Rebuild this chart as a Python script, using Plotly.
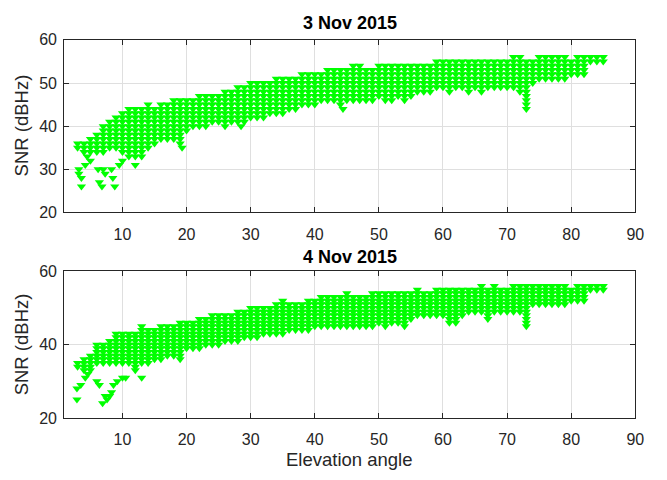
import plotly.graph_objects as go

# Elevation grid (degrees) used for the dense band of each day
ELEV = list(range(3, 86))

# 3 Nov 2015: upper and lower SNR (dBHz) of the dense band at each elevation
NOV3_HIGH = [36, 36, 37, 38, 40, 41, 42, 43, 44, 44, 44, 45, 44, 45, 45, 46, 46, 46, 46, 47,
             47, 47, 47, 48, 48, 49, 49, 50, 50, 50, 50, 51, 51, 51, 51, 52, 52, 52, 52, 53,
             53, 53, 53, 54, 54, 53, 53, 54, 54, 54, 54, 54, 54, 54, 54, 54, 55, 55, 55, 55,
             55, 55, 55, 55, 55, 55, 55, 55, 56, 56, 55, 55, 56, 56, 56, 56, 56, 55, 56, 56,
             56, 56, 56]
NOV3_LOW = [35, 34, 34, 34, 34, 35, 35, 34, 34, 33, 34, 35, 36, 37, 37, 37, 37, 39, 40, 40,
            40, 41, 41, 40, 41, 41, 41, 42, 42, 42, 43, 43, 43, 44, 44, 45, 45, 45, 46, 46,
            46, 45, 46, 46, 46, 46, 46, 47, 46, 46, 47, 46, 47, 48, 48, 48, 49, 49, 48, 49,
            49, 48, 49, 48, 49, 49, 49, 49, 49, 48, 44, 50, 51, 51, 51, 51, 51, 52, 52, 52,
            55, 55, 55]
# 3 Nov 2015: scattered low points
NOV3_OUT_ELEV = [3.2, 3.2, 3.6, 3.6, 4.2, 4.5, 5.0, 6.2, 6.4, 6.8, 7.0, 7.3, 8.3, 8.5, 8.8,
                 9.5, 10.0, 11.0, 12.0, 13.0, 19.0, 19.3, 28.5, 44.4]
NOV3_OUT_SNR = [29, 30, 26, 28, 31, 33, 32, 30, 27, 26, 30, 29, 30, 28, 26,
                31, 32, 33, 31, 33, 36, 35, 40, 44]

# 4 Nov 2015
NOV4_HIGH = [35, 36, 37, 40, 40, 41, 43, 43, 43, 43, 45, 44, 44, 45, 45, 45, 46, 46, 46, 47,
             47, 48, 48, 48, 48, 49, 49, 50, 50, 50, 50, 51, 52, 51, 51, 51, 52, 52, 53, 53,
             53, 53, 54, 53, 53, 53, 54, 54, 54, 54, 54, 54, 54, 55, 54, 54, 55, 55, 55, 55,
             55, 55, 55, 56, 55, 56, 55, 55, 56, 56, 56, 56, 56, 56, 56, 56, 56, 55, 56, 56,
             56, 56, 56]
NOV4_LOW = [34, 33, 33, 35, 35, 35, 35, 35, 35, 34, 35, 35, 36, 36, 37, 37, 37, 39, 39, 39,
            40, 40, 40, 41, 41, 41, 42, 42, 42, 43, 43, 43, 43, 44, 44, 44, 44, 45, 45, 45,
            45, 45, 45, 45, 45, 45, 45, 46, 45, 46, 46, 45, 47, 48, 48, 48, 48, 48, 46, 46,
            48, 49, 49, 49, 47, 49, 49, 49, 49, 49, 45, 51, 51, 51, 51, 51, 51, 52, 52, 52,
            55, 55, 55]
NOV4_OUT_ELEV = [2.9, 2.9, 3.5, 4.2, 4.6, 6.0, 6.4, 6.9, 7.3, 7.6, 8.0, 8.3, 8.6, 9.2,
                 10.0, 10.5, 12.0, 13.0, 19.0]
NOV4_OUT_SNR = [28, 25, 29, 31, 32, 30, 29, 24, 26, 25, 26, 27, 29, 30,
                31, 31, 33, 31, 36]

X_TICKS = [10, 20, 30, 40, 50, 60, 70, 80, 90]
Y_TICKS_TOP = [20, 30, 40, 50, 60]
Y_TICKS_BOT = [20, 40, 60]


def expand(elev, low, high, oe, os_):
    xs, ys = [], []
    for e, lo, hi in zip(elev, low, high):
        for s in range(lo, hi + 1):
            xs.append(e)
            ys.append(s)
    xs += oe
    ys += os_
    return xs, ys


FONT = "Liberation Sans, Arial, Helvetica, sans-serif"
GREEN = "#00ff00"
AXC = "#262626"

fig = go.Figure()
x1, y1 = expand(ELEV, NOV3_LOW, NOV3_HIGH, NOV3_OUT_ELEV, NOV3_OUT_SNR)
x2, y2 = expand(ELEV, NOV4_LOW, NOV4_HIGH, NOV4_OUT_ELEV, NOV4_OUT_SNR)
mk = dict(symbol="triangle-down", size=8, color=GREEN, line=dict(width=0))
fig.add_trace(go.Scatter(x=x1, y=y1, mode="markers", marker=mk, xaxis="x", yaxis="y",
                         showlegend=False, hoverinfo="skip"))
fig.add_trace(go.Scatter(x=x2, y=y2, mode="markers", marker=mk, xaxis="x2", yaxis="y2",
                         showlegend=False, hoverinfo="skip"))

W, H = 667, 480
xd = [65 / W, 644 / W]
axis_common = dict(showline=True, linecolor=AXC, linewidth=1, mirror="allticks",
                   ticks="inside", ticklen=5, tickcolor=AXC, showgrid=True,
                   gridcolor="#dfdfdf", gridwidth=1, zeroline=False,
                   tickfont=dict(family=FONT, size=16, color=AXC))

fig.update_layout(
    width=W, height=H, margin=dict(l=0, r=0, t=0, b=0),
    paper_bgcolor="white", plot_bgcolor="white",
    xaxis=dict(domain=xd, range=[0.9, 90], tickvals=X_TICKS, anchor="y",
               ticklabelstandoff=7, **axis_common),
    yaxis=dict(domain=[1 - 212 / H, 1 - 33 / H], range=[20, 60], tickvals=Y_TICKS_TOP,
               anchor="x", ticklabelstandoff=3, **axis_common),
    xaxis2=dict(domain=xd, range=[0.9, 90], tickvals=X_TICKS, anchor="y2",
                ticklabelstandoff=7, **axis_common),
    yaxis2=dict(domain=[1 - 425 / H, 1 - 273 / H], range=[20, 60], tickvals=Y_TICKS_BOT,
                anchor="x2", ticklabelstandoff=3, **axis_common),
)

cx = (65 + 644) / 2 / W
ann = [
    dict(text="<b>3 Nov 2015</b>", x=cx, y=1 - 16 / H, size=18, color="black", angle=0),
    dict(text="<b>4 Nov 2015</b>", x=cx, y=1 - 258 / H, size=18, color="black", angle=0),
    dict(text="Elevation angle", x=cx, y=1 - 468 / H, size=18.5, color=AXC, angle=0),
    dict(text="SNR (dBHz)", x=22 / W, y=1 - 122 / H, size=18.5, color=AXC, angle=-90),
    dict(text="SNR (dBHz)", x=22 / W, y=1 - 349 / H, size=18.5, color=AXC, angle=-90),
]
for a in ann:
    fig.add_annotation(text=a["text"], x=a["x"], y=a["y"], xref="paper", yref="paper",
                       xanchor="center", yanchor="middle", showarrow=False,
                       textangle=a["angle"], font=dict(family=FONT, size=a["size"], color=a["color"]))

fig.write_html("out.html")
